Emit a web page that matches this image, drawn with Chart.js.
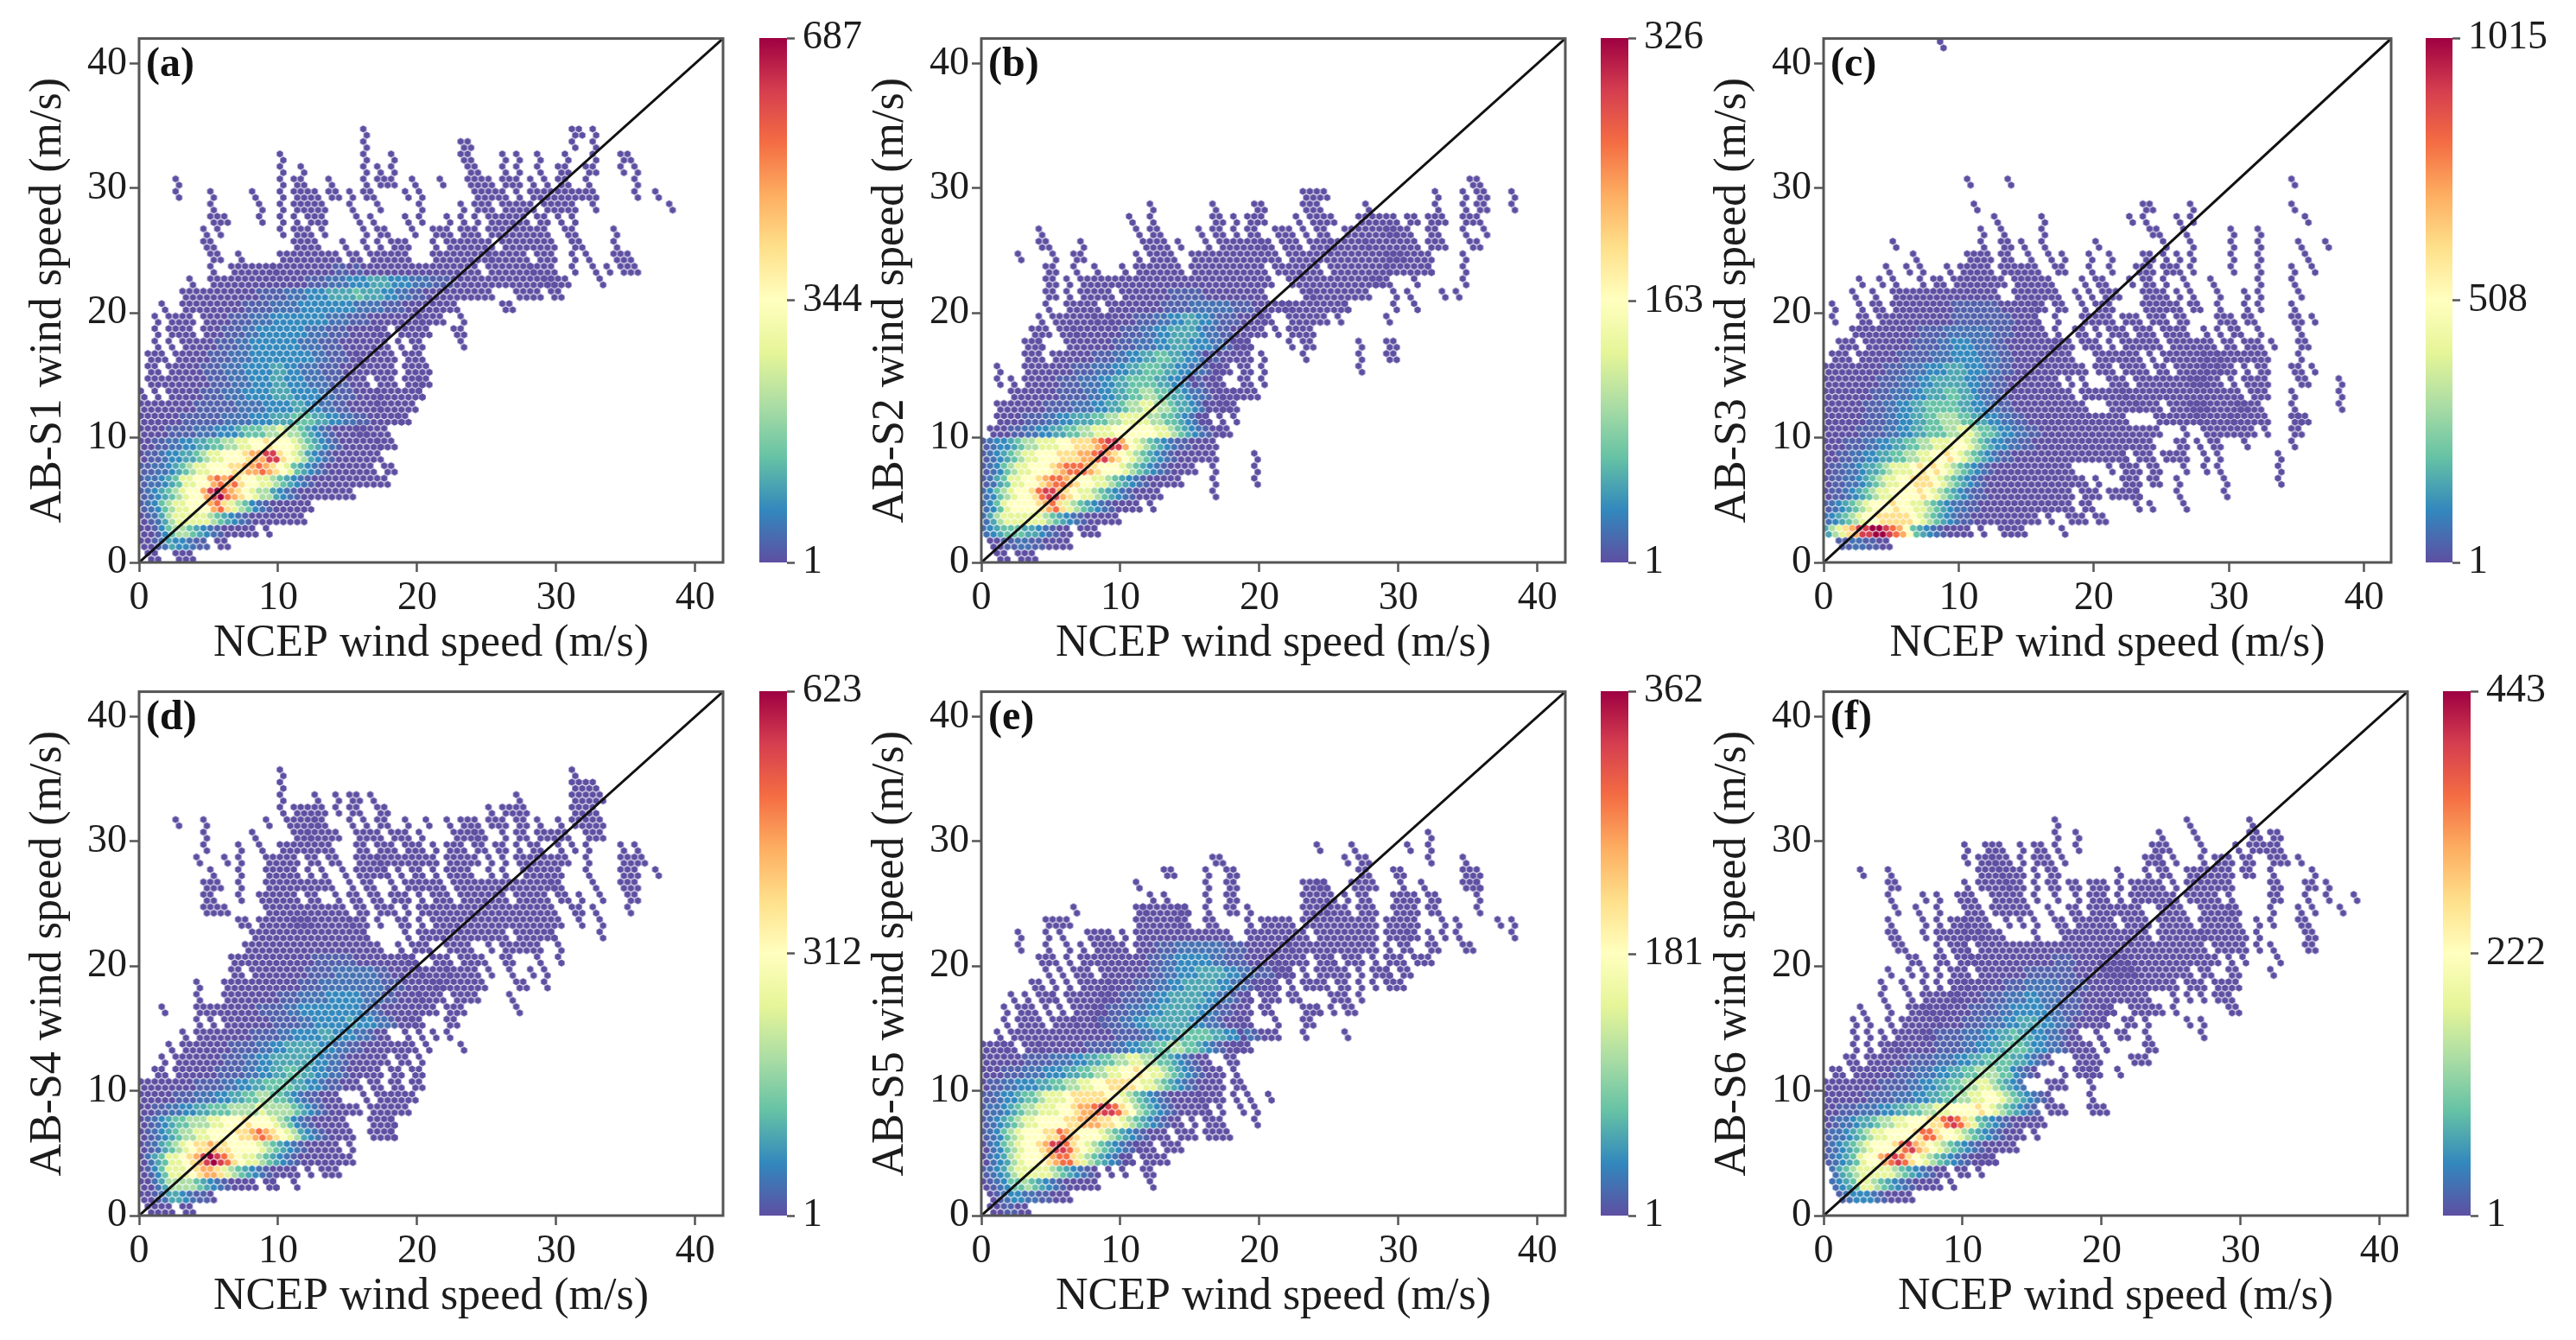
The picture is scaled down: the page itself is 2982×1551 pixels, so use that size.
<!DOCTYPE html>
<html>
<head>
<meta charset="utf-8">
<script src="https://cdn.jsdelivr.net/npm/chart.js@4"></script>
<style>
html, body { margin: 0; padding: 0; background: #fff; overflow: hidden; }
canvas { position: absolute; filter: blur(0.6px); }
</style>
</head>
<body>
<script>
const tickValues = [0, 10, 20, 30, 40];
const panelLetters = ["(a)", "(b)", "(c)", "(d)", "(e)", "(f)"];
const yTitles = ["AB-S1 wind speed (m/s)", "AB-S2 wind speed (m/s)", "AB-S3 wind speed (m/s)", "AB-S4 wind speed (m/s)", "AB-S5 wind speed (m/s)", "AB-S6 wind speed (m/s)"];
const xTitle = "NCEP wind speed (m/s)";
const colorMin = 1;
const colorMid = [344, 163, 508, 312, 181, 222];
const colorMax = [687, 326, 1015, 623, 362, 443];
const diagonal = [{x: 0, y: 0}, {x: 42, y: 42}];

// share of the colour range for each level character in the rows below
const levelShare = {1: 0, 2: .03, 3: .06, 4: .1, 5: .15, 6: .2, 7: .3, 8: .4, 9: .5, a: .6, b: .7, c: .8, d: .9, e: 1};

// hexbin density, "y|x:levels x:levels"
// y = bottom of a 1 m/s band, x = start wind speed, one level per 0.5 m/s
const rowsA = [
"34|16:1 31:11 32.5:1",
"33|16:1 23:11 31:1 32.5:1",
"32|10:1 16:1 18:1 23:11 26:1 27:1 28.5:1 30.5:1 32.5:1 34.5:11",
"31|10:1 11.5:1 16:1 17:1 18:1 23.5:11 26:1 27:1 28.5:1 30:11 32:11 34.5:1 35.5:1",
"30|2.5:1 10:1 11:11 13.5:1 16:1 17:11 18:1 19.5:1 21.5:1 23.5:111 25:1 26:11 27:1 28:1 29:1 30:11 32:1 35.5:1",
"29|2.5:1 5:1 8:1 10:1 11:1111 13.5:11 15:1 16:11 19:1 20:1 24:1111 26:1 27:1 28:11 29:11 30:1111 32:11 35.5:1 37:1",
"28|5:1 8.5:1 10:1 11:11111 15:1 17:1 20:1 23:1 24:111 26:11111 29:1 29.5:1111 32.5:1 38:1",
"27|5:11 6:1 8.5:1 10:1 11:1 12:11 13:1 15.5:1 16.5:1 19:1 20:1 22:1 23:1 24:1 25:111111 28.5:11 30:1 31:1",
"26|4.5:1 5.5:1 10:1 11:111 13:1 16:1 17:11 19.5:1 21:11 22:1 23:11 24:1 25:1111 27:11 28:111 30.5:11 34:1",
"25|4.5:1 5:1 11:1111 14.5:1 16:1 17:1 18:111 21:1 22:111 23.5:1 24:111 26:1111 28:1111 31:11 34:1",
"24|5:11 7:1 10:1 10.5:111111 13.5:11 15:11 16.5:11111 19:1 21:11 22:1111 24:111 25:11111 27.5:1 28.5:111 31:1 32:1 34:111",
"23|5:1 6.5:111 8:1111 9.5:1111111112 14.5:21211111 18.5:1111111 22:11111 25:1111111 28:1111 31:1 32.5:1 33.5:1 34.5:111",
"22|3.5:1 5:11 6:111 7.5:1111 9.5:1111122233344455544433322211111111111111111 29:11 33:1",
"21|3:11 4:1 4.5:11111 7:1112222333444555565554433221111111111 27:1111 29.5:11",
"20|1.5:1 3:11 4:1 4.5:1111112222333344444444333322211111111 26:11",
"19|1:1 2:11 3:11 4.5:111122233344444444333222111111111 20:1 21:11 23:1",
"18|1:1 2:111 3.5:1 4.5:111222334444444333222111111 17:1 18.5:111 20:11 22.5:1 23:1",
"17|1:1 2:1 3:1 3.5:1 4:11122233444444433322211111 17:11 18.5:1 19.5:11 23:1",
"16|0.5:11 1.5:1 2.5:1111122233344444444433222111 15.5:1 16.5:111 18:1 19:11 20:1",
"15|0.5:1 1:1 2:1111122233344445544333222111111 17.5:11 19:11 20:11",
"14|0.5:11111111122233344455444333222111 17:111 19:111 20:11",
"13|0:1 1:1 2:1111122233344445554444332221111 17:1 17.5:111 19:111 20:1",
"12|0:11111111222222333344445544332211 16:111 17:11 18:111 19.5:1",
"11|0:111111222222333344455566655443322111 18:111 18.5:1",
"10|0:1111222233344456667787765432111111 15.5:11 17:11",
"9|0:112233445566778899a999876543211111111 17:1",
"8|0:122344556788999abbdda98754321111111",
"7|0:2233456788999aabbcba98654321111 15.5:111 17.5:11",
"6|0:2334568899bcbca9988765432111111 15.5:111 17:11",
"5|0:234567899bdecba98775432111111 14.5:11",
"4|0:2346788999bca876432111111",
"3|0:12357888887654321111 10:11 11:11",
"2|0:1124677654321111 8:1 9:1",
"1|0:11 1:23544322 5.5:11",
"0|0.5:11 2.5:111"
];

const rowsB = [
"30|35:1 35.5:1",
"29|23:11 24:11 32.5:1 34.5:1 35.5:11 38:1",
"28|12:1 16.5:1 19.5:11 23:11 24:1 27.5:1 32.5:1 34.5:1 35.5:11 38:1",
"27|10.5:1 12:1 16.5:11 18:1 19:111 22.5:1 23.5:111 25:1 27:1111 29:11 30.5:11 32:111 34.5:111",
"26|4:1 11:1 12:11 15.5:1 16.5:11 18:1 19:11 21:111 23:1 24:11 26:11 27:111111 29:11 30:11 32:11 34.5:1 36:1",
"25|4:11 7:1 11.5:1 12:111 14:1 16:1 17:1111111 20:11 21.5:111 23.5:1111 25:111111 27.5:111 29:11 30:111 32:111 35:11",
"24|2.5:1 5:1 6.5:11 11:1 12:1 12.5:111 15:1 15.5:11 16.5:111111 19.5:1111 22:111111 25:1111111111 29:111 30:1111 32:1 34.5:1",
"23|4.5:11 6.5:1 8:1 10:1 11:11 12:1111 14:1 15:11111111111 21:1111111 25:111111111 29:1111111 32:1 34.5:1",
"22|4.5:11 6:1 7:11 8:111111 11:11111111111111111111 22:1 22.5:1111111111111 28:111 31:1 34.5:1",
"21|4.5:11 6:1 7:1 7.5:11 8.5:11 10:1111 12:11122222111111111 23:11 23.5:111111111 29.5:1 30.5:1 33:1 34:1",
"20|4.5:1 6:1 6.5:111 8:1 9:11111 11.5:1112222333333222111111 21.5:11111 24:11111 26:1 29.5:1 31:1",
"19|4:1 5:1 5.5:11 6.5:1111 8:111 9:11112223344554432221111 20:11 22:1111 24:1 24.5:1 25.5:1 29:1",
"18|3.5:111 5.5:111 6.5:11 7.5:1111122233445555433221111 20:1 21:1 22:111 23.5:1",
"17|3:111 4:1 6:1 6.5:11111122233344555444332111 18:111 22:1 23:11 27:1 29:11",
"16|3:1 3.5:11 5:11111122233445566554433211 16:1 18:11 19:1 20:1 23:1 27:1 29:11",
"15|1:1 3:1 3.5:11111122233344556665544332111 16.5:1 17:1 18.5:11 20:1 27:1",
"14|1:1 2:1 3:1 3.5:1111222333445566665544322111 15:1 16.5:1 18.5:1 19:1 20:1",
"13|2:1 2.5:111111222233445566776655433211111 17:1 18:1 19:11",
"12|1:1111111222233344556778877655432111 16:1 17:11 18:1",
"11|1:1111222334455566778888776654321 15.5:11 17:1 18:1",
"10|0.5:11122334455667788899999988765432111 17:1",
"9|0:2344567788899aaabcddb9876543221111",
"8|0:23456788999aaabbcdba98765432111111 19.5:1",
"7|0:2346788999abcccba99987654321111 16.5:1 19.5:1",
"6|0:23568899abccba9988765432111 13.5:11 16.5:1 19.5:1",
"5|0:3467899acddba9887654321 11.5:111 16.5:1",
"4|0:34689999abca87654321 10:111 12:1",
"3|0:3578888887654321 8:11 9:11",
"2|0:3456665543211 7:11 8:1",
"1|0.5:1122332211 5.5:11",
"0|1:11 2.5:1 3:11"
];

const rowsC = [
"41|8.5:1",
"30|10.5:1 13.5:1 34.5:1",
"28|11:1 23.5:1 24:1 27:1 34.5:1",
"27|12.5:1 16:1 22.5:1 23.5:1 26:1 27:1 35.5:1",
"26|11.5:1 13:1 16:1 24:11 26.5:1 30:1 32:1",
"25|5:1 11.5:1 13:11 14.5:1 16:1 20:1 25:1 27:1 30:1 32:1 35:1 37:1",
"24|6.5:1 10.5:1 11:111 13:11 15:1 16.5:1 17.5:1 19.5:1 21:1 23.5:11 25:1 26:1 27:1 30:1 32:1 35.5:1",
"23|4.5:1 6:1 7:1 9:1 10:11 11:111 13:11 14:1111 17:11 19.5:1 21:1 23:11 24:1 25:111 27:1 30:1 32:1 34.5:1 36:1",
"22|2.5:1 4:1 5:1 7:1 8:11 9.5:11 10.5:111111 14:111 15.5:111 19:1 20:11 22.5:1 23.5:11 25:1 26.5:1 28.5:1 32:1 34.5:1",
"21|2:1 3.5:1 5:11 6:1 6.5:11 7.5:11111111111 14:111 15.5:1111 18.5:1 19.5:1 20.5:1 21:11 23.5:1111 26:1 27:1 29:1 31:1 32:1 35:1",
"20|0.5:1 2.5:1 3.5:11 5:1111111112222222111111 15.5:11 17:11 19:1 20:11 21:1 23.5:1111 25.5:11 27:11 29:1 31:1 32:1 34.5:1",
"19|0.5:1 2.5:11 4:1 4.5:11111111112222222221111 15.5:1 17:1 19:11 20:111 22:111 24:111 26:11 29:11 30:1 31:11 34.5:11 36:1",
"18|2:11 3:1 3.5:1111111222233333332221111 16:1 17:1 18.5:11 20:1 21:111 23:11 24:1 25:1111 28:1 29:1 30:11 32:1 35:1",
"17|1:11 2:1 3:11111112222334443332211111111 17:111 19:111 21:1 22:1111 24:11 25.5:11111 28:11 29.5:11 31:111 33:1 35:11",
"16|0.5:11 1.5:1 2.5:1111112222233344443332211111111 18:1 20:111 21.5:1111 24:1 25:111 26.5:1111 28:111 29:1111 31:1111 35:1",
"15|0:1111 2:1111122233344455544433221111111111 19:1 20:11 21:1 22:11 23:11 24.5:1 25:1 26:1111111 28:1 29:111 31:1 32:11 34.5:11 36:1",
"14|0:111 1.5:11111222333445555544332211111111 18:1 19:1 21:11 22:1 23:11 24:11 25:1111111 27:1 27.5:1111 30:1 31:1111 35:11 38:1",
"13|0:1111 2:111222333445556655433221111111111 19:1111111 22:11 23:1111 25:1111 27:11 28:111111 31.5:111 34.5:1 38:1",
"12|0:111 1.5:111222334455666665544332211111111111 21:111 22.5:11 23:1111 25.5:11111 27:111 28:1111111 30.5:111 32:1 34.5:1 38:1",
"11|0:11111 2.5:1222334455667776655443322111111111111111 24.5:111 26:1111 27.5:1 28:11111 30:111 31.5:111 34.5:11 35:11",
"10|0:11111222233445566677887665443322111111111111111111 26.5:1 28:11111111 32.5:1 34.5:11",
"9|0:1112223344556677888998765443322111111111111111111 26:11 27.5:1 28.5:11 31:1 34.5:1",
"8|0:112233445566778899a98765432211111111111111111 22:1 23:11 24:1 25:11 26:11 28:1 29:1 33.5:1",
"7|0:12233455678889a9a98765432111111111111 21:1 22:11 23:1 24:11 26.5:1 28:1 29:1 33.5:1",
"6|0:1223345678899aaa98765432111111111111111 20:1 22:11 23:1 24:11 26:1 29.5:1 33.5:1",
"5|0:12234567889999a987654322111111111111 18:1 19:111 21:11 22:111 23:1 26:1 29.5:1",
"4|0:2345678999a99887654332211111111111 17:111 19:11 23:1 24:1 26.5:1",
"3|0:34567899aaaaa987654322111111111 15.5:1 16.5:1 18:111 20:11",
"2|0:578abddeedcb9654321111 11.5:1 13:1111 17.5:1",
"1|1:22332211"
];

const rowsD = [
"35|10:1 31:1",
"34|10:1 31:11 32:11",
"33|10:1 12.5:1 14:1 15:11 16.5:1 27:1 31:11 32:111",
"32|10:1 11:1111 13:1 14:1 15:11 17:11 25:1 26:11 27:11 31:11 32:11",
"31|2.5:1 4.5:1 9:1 10.5:1 11:1111 12.5:11 15:1 16:1 17:11 19:1 20.5:1 22:1 23:111 25:11 26:1 27:11 28.5:1 30:1 31:11 32:111",
"30|4.5:1 8:1 11:111 12:1111 14:1 15.5:111 17:1 18:11 19:1 20:1 22.5:1111 24:11 26:1 27:11 28.5:111 30:11 32:111",
"29|4.5:1 7:1 8.5:1 10:11 11:111 12.5:111 15.5:11 17:11 18:1 19:111 21:1 22:111 24:11 25.5:11 27:1 28:11 30:1 31:1 32:1 34.5:1 35.5:1",
"28|4:1 6:1 7:1 9:1 9.5:1111 12:11 13.5:11 15.5:1111 17:1111 19:11 20:111 22:1111 24:1 25:1 26:1 27:1111 29:11 30:11 32:1 34.5:111 36:1",
"27|5:1 7:1 9:1 9.5:1111 12:1 13:1 14.5:1 15.5:11111 17.5:1 18.5:1 19.5:11 21:1 22:111 23.5:1 25:1 26:1 27.5:1111 29.5:11 32:1 34.5:11 35.5:1 37:1",
"26|4.5:111 7:1 9:11 10:1111 12:111 13.5:1 15:1 16:11 18:1 19:1111 21:11 22.5:11111 25:1111 27:111111 29.5:1 30:1 32.5:1 34.5:111",
"25|4.5:11 7:1 8.5:1 9:1111 11:1 12:11 14:1 15:11 16.5:11 18:111 20:1 21:11 22:1 23:1111111 27:1 27.5:1111 30:11 31.5:1 33:1 35:11",
"24|4.5:111 6:1 9:1 9.5:11 10.5:1111111 14:11 15.5:11 17:111 19:1 20:1111 22:111111 25:111111 28:1111 31:11 32.5:1 35:1",
"23|7:11 8.5:11111111 11:111111111 15:11 16:1 17:1 18.5:11 20:1 21:11111 23.5:1111111 27:1111 29:111 31.5:1 33:1",
"22|8:1111 10:1111111111111 16:1 19:1 20:111 21.5:11111 24:1 24.5:1111 27:11 28:1111 29.5:1 33:1",
"21|7.5:1 8:111 9.5:1 10:11111111111111 17:1 18.5:1 19.5:111 22:1111 25:1 26:1111 28:11 30:1",
"20|6.5:11 7.5:1111111111222222111111111 19:11 21:111 23:1111 26:11 28.5:1 30:1",
"19|6.5:11 8:111 9.5:11111222233333322111111111 20:1 22:1111 24:1 25:1 26.5:1 28:1 29:1",
"18|4:1 6:111 7.5:111 9:11111222333333333222111111 21:111 22.5:11111 27:11 29:1",
"17|4:1 6:1 6.5:1111111222333344444333221111 20:111 21.5:1 22.5:1111 26.5:1",
"16|1.5:1 4:11 5:11 6:1111122223344444444433211111 20:111 22:111 27:1",
"15|4:1 5:1 6:1 6.5:111111222233444445444332111 19.5:11 22:11",
"14|3:1 4:1111111122223344445544433211 19:1 20:1 21:1 22:1",
"13|2:1 3:1 3.5:1111112222334455555443322111 17.5:111 19:1 19.5:1 20.5:1 23:1",
"12|1.5:1 2.5:11 3.5:1111122233445555554433211 16:1111 18.5:11 20:1",
"11|1:11 2.5:1111112222334455665544332111 16.5:1 17:1 18:11 19.5:11",
"10|0:1 0.5:1111 2.5:111222233445566665544322111 16.5:1 17:1 18:11 19.5:11",
"9|0:1111 2:1222333445566776654322111 16:1 17:11 18:11 19:11",
"8|0:1122334455666777787777654321111 15.5:1 16.5:11 17.5:111 19:1",
"7|0:123456677788999a99987643211111 16.5:1111 18:1",
"6|0:12345677889999aabcba98754321111 16.5:1111 18:1",
"5|0:12356789aabaa9999876543211111 15:1",
"4|0:1356889abdedca98876543211111111",
"3|0:12468889abba87654321111 12:1 13:1 13.5:11",
"2|0:1135777765432111 8:1 9:11 9.5:1 11:1",
"1|0:11235543221",
"0|0.5:1 1:11 2:1 3:1 3.5:1"
];

const rowsE = [
"30|32:1",
"29|24:1 26.5:1 30.5:1 32:1",
"28|16.5:1 17:1 26:1 27:11 32:1 34.5:1",
"27|13:11 16:1 17.5:1 18:1 27:1 27.5:1 29.5:1 30:1 34.5:111",
"26|11:1 16:1 17.5:1 18:1 23:1111 24:11 26.5:1 27:111 30:1 31.5:1 34.5:111 35.5:1",
"25|12:1 13:1 16:1 17.5:11 23:1111 25:1 26:1 27:11 29.5:1 30:111 32:11 35.5:1",
"24|6.5:1 11:11 11.5:1111111 14:11 16:1 17.5:11 19:1 23:1111 24.5:111 26:1 27:111 29.5:1111 32:11 35.5:1",
"23|4.5:1 5:11 6:1 11:1111111 14:11 16:11 19:1 20:111 21.5:11 23:11 24:111111111 29:1111 31:1 33:1 34:1 37:1 38:1",
"22|2.5:1 4.5:1 5.5:1 7.5:1 8:11 9:1 10:1 11:11111111 15:111111 19:111111111 24:111111111 29:1111 30.5:11 32:1 33:1 34:1 38:1",
"21|2.5:1 4.5:1 6:1 7:1 8:1 8.5:111 10:1 11:11122233333332221111111 22:111 23.5:111 25:111 26.5:1111 29:1 30:11 32:11 34.5:11",
"20|4:11 5:1 6:1 7:11 8:11 9:11 10:1 10.5:1112233444443322211111 21:11 22:11 23:1 24:111 25:1 26:1 26.5:11 28:1 29:111 31:11 32:1",
"19|4.5:1 5.5:1 6.5:111 8.5:1 9:11 10:1111223344455554433222111 21:111 23:1 24:111 25.5:11 27:1 28:111 29:1 30:11",
"18|3.5:11 5:1 6:1 7:11111 9:1 9.5:11122233445555544332211 19.5:1 20.5:11 22:1 23:11 24:11 25.5:11 27:1 28:1 29:1 29.5:11",
"17|2:1 3:1 4:111 5:1 6:1111111 8.5:1112223344555554433211 19:1 20:111 22:11 25:111 27:1",
"16|1.5:1 2.5:1 3:1 3.5:1 4.5:1 5.5:1 6.5:11111 8:11222333445555544322111 20:11 23:111 24:1 25:1 26:11",
"15|1.5:1 2.5:1 3:1 3.5:11 5:1 5.5:1 6:11 6.5:11111 8:1222334455555544332111 18.5:11 21:1 23:11",
"14|1:1 2:1 2.5:111 4:11 5:1 5.5:1 6:1 6.5:111111222233445566665544432111 18.5:1 23:1 26:1",
"13|0:1111 1.5:11 3:111 4:1 4.5:111111222233445566776654321111 18:11",
"12|0:111111222233344556677887766543211 17.5:11",
"11|0:1112223334445566778899a98876543211 17:1 18:1",
"10|0:122334445566778899aaaa988765432111 17:1 18:11",
"9|0:2234456678889aaaaa99876543211111 15.5:111 17:1 18:1 19:1 20.5:1",
"8|0:2334567788899abbcddca976543211111 16:1 17:1 18.5:1 19.5:1",
"7|0:234567889999aabbbaa9876543211 15:1 16:111 19.5:1",
"6|0:234678999aacba9998765432111 14:11 15:1 16:11 17:11",
"5|0:13467899abddca987654321 11:11 12:1 13:11 14:1",
"4|0:134578999abcca87654321 10:11 11.5:1 12:111",
"3|0:23457888887654321 9:1 10:1 11.5:1 12:1",
"2|0:123466765432111 7.5:1 8:1 12:1",
"1|0.5:123443322111",
"0|0.5:1 1:122 2.5:11"
];

const rowsF = [
"31|16.5:1 26:1 30.5:1",
"30|16.5:1 18:1 24:1 26.5:1 30.5:11 32:11",
"29|10:1 11.5:1 12:11 14:1 15:11 16.5:1 18:1 23.5:1 24:11 27:1 29.5:1 30.5:111 32:11",
"28|10:1 11:111 12:111 14:1 15:11 16:1 17:1 23:111 24:1 25:1 27:1 28:11 29:1 30:11 32:111 34:1",
"27|2.5:1 4.5:1 11:1111 12.5:111 14:1 15:1 16:11 21:1 23:1 24:11 26:1111 28:11 29:1 30:11 32:1 35:1",
"26|4.5:11 10:1 11:11111 13:111 15:1 16:11 17.5:11 19:11 20:1 21:1 22:11 23:111 25:1 26:1111 28:11 29:1 32:11 34.5:11 36:1",
"25|4.5:1 7:1 8:1 9.5:111 12:1111 14:1 15:1 16.5:1 18:1 19:111 21:1 22:1111 24:111 26:1111 28:1 29:1 32:11 34.5:1 36:1 38:1",
"24|5:1 6.5:1 8:1 10:11 11:1 12:1111 14:11 16:1 17.5:11 19:11 20:1111 22:11 24:1111 27:11 28:111 29:11 32:1 34:1 35:1 37:1",
"23|4.5:1 7:1 8:1 9:111 10:1111 13:1 14:1 15:1 16.5:11 18:11 19:1111 21.5:1111 24:1111 26:1 27:11 28:1 28.5:111 31:1 32:1 34:1 34.5:1",
"22|4.5:11 7:1 8:11 9:111 10:111 11:1111 15:1 17:111111 20:1111111 24:1111111 27:11 28:1111 30:1 31:1 34.5:1 35:1",
"21|5:11 8:1 9:111 10:1 11:1 11.5:11111111111 17:11111111 21:1111 23:11 24:1111 26:11 27:1 28:11 29:111 31:1 32:1 34.5:11",
"20|6:11 8:1 8.5:1 9.5:111 10.5:1 11:1111111111122211111111 20:1111111 23.5:1111111 27:11 28:1 29:1 30:1 32.5:1",
"19|4.5:1 6:1 7:1 8:1 9:11 10:1 11:11111112222222111111111 20:1 20.5:1111 22:1111 24:11111 27:11 29:11 32:1",
"18|4:1 5.5:1 7:1 8:1 9:111 10:11 11:111122233333222211111 21:1111 23:1111 25:1 26:1 26.5:11 28:111 29.5:1",
"17|4:1 6:1 7:111111 9:1111122233344333222111111 21.5:1111 25:1 26:1 27:1 28:11 29:1",
"16|2.5:1 4.5:1 6:1111 7:1111 8.5:1111222233444443322211111 20:11 22:11 23:111 25:1 29:1 29.5:1",
"15|2:1 3:1 4.5:1 5.5:11 6.5:1111 8:1 8.5:111222333445554433211111 20:1 21.5:11 23:1 26:1 27:1",
"14|2:1 3:1 4:1 5:1 5.5:11111 7:11222233344556554433211 19.5:1 21:11 23:1 27:1",
"13|2:1 3:1 4:111 5:111111222233445566654433211 18.5:11 20:1 23:11",
"12|1.5:1 2:1 3:1 3.5:1 4:1111222233344556666554321 18:11 19:11 22:111",
"11|0.5:1 1:1 2:1 2.5:11 3.5:1 4:11222333445566777664321 17:1 18:111 19:11 21:1",
"10|0:1111111 3.5:1222233445566778876543 16:111 19:1",
"9|0:111111222233344556677889987654321 19:1",
"8|0:1122233344556677889999a98765432 16:11 17:1 19:111",
"7|0:123345567788999aacdca865432111 15:11",
"6|0:2334567889999acca998765432111 15:1",
"5|0:2345678999acdba9876543211 12.5:1 13:1 13.5:1",
"4|0:23456899bcdca98765432111 11:111 12:1",
"3|0.5:35678888876543211 9.5:1 10:1 11:1",
"2|0.5:3456887654321 7:11 8:1 9:1",
"1|1:23444321111"
];

const panelRows = [rowsA, rowsB, rowsC, rowsD, rowsE, rowsF];

// where each panel sits on the page, in pixels
const boxes = [
    {l: 161, r: 837, t: 44, b: 651, cl: 879, cr: 911},
    {l: 1136, r: 1812, t: 44, b: 651, cl: 1853, cr: 1885},
    {l: 2111, r: 2768, t: 44, b: 651, cl: 2808, cr: 2839},
    {l: 161, r: 837, t: 800, b: 1407, cl: 879, cr: 911},
    {l: 1136, r: 1812, t: 800, b: 1407, cl: 1853, cr: 1885},
    {l: 2111, r: 2787, t: 800, b: 1407, cl: 2828, cr: 2860},
];

const spectral = ["#5e4fa2", "#3288bd", "#66c2a5", "#abdda4", "#e6f598", "#ffffbf", "#fee08b", "#fdae61", "#f46d43", "#d53e4f", "#9e0142"];

const serif = "'Liberation Serif', 'Times New Roman', serif";
const inkColor = "#1c1c1c";
const frameColor = "#555555";
const leftRoom = 150, rightRoom = 20, topRoom = 30, bottomRoom = 130, barRoom = 44;

function mixColor(share) {
    const pos = Math.min(share, 1) * (spectral.length - 1);
    const i = Math.min(Math.floor(pos), spectral.length - 2);
    const a = parseInt(spectral[i].slice(1), 16), b = parseInt(spectral[i + 1].slice(1), 16);
    const f = pos - i;
    const ch = s => Math.round(((a >> s) & 255) * (1 - f) + ((b >> s) & 255) * f);
    return `rgb(${ch(16)},${ch(8)},${ch(0)})`;
}

// two small hexagons stacked, so a 0.5 x 1 m/s cell shows the honeycomb of the hexbin
const sprites = {};
function cellSprite(share) {
    if (sprites[share]) return sprites[share];
    const c = document.createElement("canvas");
    c.width = 18; c.height = 18;
    const g = c.getContext("2d");
    g.fillStyle = mixColor(share);
    [[7, 5.4], [11, 12.6]].forEach(([cx, cy]) => {
        g.beginPath();
        for (let k = 0; k < 6; k++) {
            const ang = Math.PI / 6 + k * Math.PI / 3;
            g.lineTo(cx + 4.2 * Math.cos(ang), cy + 4.2 * Math.sin(ang));
        }
        g.closePath();
        g.fill();
    });
    sprites[share] = c;
    return c;
}

function rowsToCells(rows, max) {
    const cells = [];
    rows.forEach(row => {
        const [band, segments] = row.split("|");
        const y = +band + 0.5;
        segments.split(" ").filter(Boolean).forEach(seg => {
            const [start, levels] = seg.split(":");
            [...levels].forEach((ch, k) => {
                const share = levelShare[ch];
                cells.push({x: +start + k / 2 + 0.25, y, v: colorMin + share * (max - colorMin), share});
            });
        });
    });
    return cells;
}

function addCanvas(left, top, width, height) {
    const c = document.createElement("canvas");
    c.width = width; c.height = height;
    c.style.left = left + "px";
    c.style.top = top + "px";
    c.style.width = width + "px";
    c.style.height = height + "px";
    document.body.appendChild(c);
    return c;
}

function panelChart(idx) {
    const box = boxes[idx];
    const canvas = addCanvas(box.l - leftRoom, box.t - topRoom, box.r - box.l + leftRoom + rightRoom, box.b - box.t + topRoom + bottomRoom);
    const fixedTicks = scale => { scale.ticks = tickValues.map(value => ({value})); };
    const axisCommon = {
        type: "linear",
        min: 0,
        max: 42,
        afterBuildTicks: fixedTicks,
        grid: {drawOnChartArea: false, drawTicks: true, tickLength: 11, tickWidth: 2.5, tickColor: frameColor},
        border: {display: false},
        ticks: {color: inkColor, font: {family: serif, size: 46}, padding: 3, maxRotation: 0, autoSkip: false},
    };
    new Chart(canvas.getContext("2d"), {
        type: "scatter",
        data: {
            datasets: [
                {
                    data: diagonal,
                    showLine: true,
                    pointRadius: 0,
                    borderColor: "#111111",
                    borderWidth: 3,
                    order: 0,
                },
                {
                    data: rowsToCells(panelRows[idx], colorMax[idx]),
                    pointStyle: ctx => cellSprite(ctx.raw ? ctx.raw.share : 0),
                    pointRadius: 9,
                    order: 1,
                },
            ],
        },
        options: {
            responsive: false,
            animation: false,
            events: [],
            layout: {padding: {top: topRoom, right: rightRoom, left: 0, bottom: 0}},
            plugins: {legend: {display: false}, tooltip: {enabled: false}},
            scales: {
                x: {
                    ...axisCommon,
                    afterFit: s => { s.height = bottomRoom; },
                    title: {display: true, text: xTitle, color: inkColor, font: {family: serif, size: 52}, padding: {top: 0, bottom: 4}},
                },
                y: {
                    ...axisCommon,
                    afterFit: s => { s.width = leftRoom; },
                    title: {display: true, text: yTitles[idx], color: inkColor, font: {family: serif, size: 52}, padding: {top: 14, bottom: 0}},
                },
            },
        },
        plugins: [{
            id: "frame",
            afterDraw(chart) {
                const {ctx, chartArea: a} = chart;
                ctx.save();
                ctx.strokeStyle = frameColor;
                ctx.lineWidth = 3;
                ctx.strokeRect(a.left, a.top, a.right - a.left, a.bottom - a.top);
                ctx.fillStyle = "#111111";
                ctx.font = "bold 48px " + serif;
                ctx.textBaseline = "middle";
                ctx.fillText(panelLetters[idx], a.left + 8, a.top + 31);
                ctx.restore();
            },
        }],
    });
}

function colorbarChart(idx) {
    const box = boxes[idx];
    const textRoom = 120;
    const canvas = addCanvas(box.cl, box.t - barRoom, box.cr - box.cl + textRoom, box.b - box.t + 2 * barRoom);
    const barTicks = [colorMin, colorMid[idx], colorMax[idx]];
    new Chart(canvas.getContext("2d"), {
        type: "bar",
        data: {
            labels: [""],
            datasets: [{
                data: [[colorMin, colorMax[idx]]],
                barPercentage: 1,
                categoryPercentage: 1,
                backgroundColor(ctx) {
                    const a = ctx.chart.chartArea;
                    if (!a) return spectral[0];
                    const grad = ctx.chart.ctx.createLinearGradient(0, a.bottom, 0, a.top);
                    spectral.forEach((col, i) => grad.addColorStop(i / (spectral.length - 1), col));
                    return grad;
                },
            }],
        },
        options: {
            responsive: false,
            animation: false,
            events: [],
            layout: {padding: {top: barRoom, bottom: barRoom, left: 0, right: 0}},
            plugins: {legend: {display: false}, tooltip: {enabled: false}},
            scales: {
                x: {display: false},
                y: {
                    position: "right",
                    min: colorMin,
                    max: colorMax[idx],
                    afterBuildTicks: s => { s.ticks = barTicks.map(value => ({value})); },
                    afterFit: s => { s.width = textRoom; },
                    grid: {drawOnChartArea: false, tickLength: 9, tickWidth: 2.5, tickColor: frameColor},
                    border: {display: false},
                    ticks: {color: inkColor, font: {family: serif, size: 46}, padding: 9, autoSkip: false, callback: v => String(v)},
                },
            },
        },
    });
}

panelRows.forEach((_, idx) => {
    panelChart(idx);
    colorbarChart(idx);
});
</script>
</body>
</html>
